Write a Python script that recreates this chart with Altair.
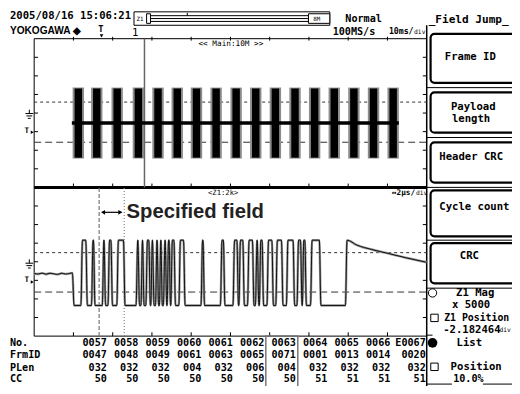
import altair as alt
import pandas as pd

# ---------------- values ----------------
header_date = "2005/08/16 15:06:21"
brand = "YOKOGAWA ◆"
acq_mode = "Normal"
sample_rate = "100MS/s"
main_tdiv = "10ms/"
zoom_tdiv = "↔2μs/"
div_unit = "div"
main_label = "<< Main:10M >>"
zoom_label = "<Z1:2k>"
record_len = "8M"
zoom_tag = "Z1"
annotation = "Specified field"

menu_title = "_Field Jump_"
menu_buttons = ["Frame ID", "Payload", "Header CRC", "Cycle count", "CRC"]
menu_second_line = ["", "length", "", "", ""]
z1_mag_title = "Z1 Mag"
z1_mag_value = "x 5000"
z1_pos_title = "Z1 Position"
z1_pos_value = "-2.182464"
list_label = "List"
position_label = "Position"
position_value = "10.0%"

row_labels = ["No.", "FrmID", "PLen", "CC"]
frame_no = ["0057", "0058", "0059", "0060", "0061", "0062", "0063", "0064", "0065", "0066", "E0067"]
frame_id = ["0047", "0048", "0049", "0061", "0063", "0065", "0071", "0001", "0013", "0014", "0020"]
payload_len = ["032", "032", "032", "004", "032", "006", "004", "032", "032", "032", "032"]
cycle_count = ["50", "50", "50", "50", "50", "50", "50", "51", "51", "51", "51"]
selected_frame = "0063"

# main trace: 10 ms/div, amplitude in divisions
burst_start_ms = [10.1, 14.8, 20.0, 25.4, 30.4, 35.3, 40.2, 45.2, 50.3, 55.3,
                  60.3, 65.3, 70.3, 75.3, 80.3, 85.3, 90.3]
burst_width_ms = 2.3
burst_high_div = 1.37
burst_low_div = -2.45
burst_mid_div = -0.54
main_thresholds_div = [0.59, -1.57]
zoom_position_ms = 28.1

# zoom trace: 2 us/div, amplitude in divisions
idle_t_us = [0.0, 0.2, 0.4, 0.6, 0.8, 1.0, 1.2, 1.4, 1.6, 1.8, 1.95]
idle_v_div = [-0.63, -0.66, -0.61, -0.67, -0.62, -0.65, -0.68, -0.62, -0.66, -0.63, -0.60]
bus_high_div = 1.16
bus_low_div = -2.35
pulses_us = [(2.42, 2.67), (2.96, 3.06), (3.51, 3.60), (3.80, 3.95), (4.25, 4.59),
             (5.23, 5.33), (5.48, 5.56), (5.73, 5.88), (5.98, 6.07), (6.22, 6.30),
             (6.42, 6.49), (6.62, 6.72), (6.81, 6.91), (7.00, 7.16), (7.41, 7.65),
             (8.54, 8.64), (9.53, 9.68), (10.17, 10.37), (10.47, 10.67), (10.91, 11.16),
             (11.31, 11.41), (11.51, 11.65), (11.90, 12.15), (12.35, 12.64), (12.89, 13.23),
             (13.43, 13.61), (13.70, 13.83), (14.12, 14.57)]
tail_t_us = [15.94, 16.44, 17.2, 18.07, 19.0, 20.0]
tail_v_div = [1.16, 0.90, 0.66, 0.44, 0.20, -0.03]
zoom_thresholds_div = [0.49, -1.63]
field_start_us = 3.31
field_end_us = 4.59

# ---------------- layout (reference pixel frame 520 x 394) ----------------
W, H = 504, 378
SX, SY = W / 520.0, H / 394.0
FS = (SX + SY) / 2
MONO = "DejaVu Sans Mono"
SANS = "Liberation Sans"

PLOT_L, PLOT_R = 27, 432
MAIN_T, MAIN_B = 32, 187
ZOOM_T, ZOOM_B = 187, 342
DIV_X = (PLOT_R - PLOT_L) / 10.0
DIV_Y = (MAIN_B - MAIN_T) / 8.0

PXS = alt.Scale(domain=[0, 520], range=[0, W])
PYS = alt.Scale(domain=[0, 394], range=[0, H])
MXS = alt.Scale(domain=[0, 100], range=[PLOT_L * SX, PLOT_R * SX])
MYS = alt.Scale(domain=[-4, 4], range=[MAIN_B * SY, MAIN_T * SY])
ZXS = alt.Scale(domain=[0, 20], range=[PLOT_L * SX, PLOT_R * SX])
ZYS = alt.Scale(domain=[-4, 4], range=[ZOOM_B * SY, ZOOM_T * SY])


def texts(rows, align="left", font=MONO, weight="bold", color="black", xs=PXS, ys=PYS):
    df = pd.DataFrame(rows, columns=["x", "y", "t", "s"])
    df["s"] = df["s"] * FS
    return alt.Chart(df).mark_text(align=align, baseline="middle", font=font,
                                   fontWeight=weight, color=color).encode(
        x=alt.X("x:Q", scale=xs, axis=None), y=alt.Y("y:Q", scale=ys, axis=None),
        text=alt.Text("t:N"), size=alt.Size("s:Q", scale=None))


def rules(rows, color="black", width=1.0, dash=None, xs=PXS, ys=PYS):
    df = pd.DataFrame(rows, columns=["x", "x2", "y", "y2"])
    kw = dict(color=color, strokeWidth=width)
    if dash:
        kw["strokeDash"] = dash
    return alt.Chart(df).mark_rule(**kw).encode(
        x=alt.X("x:Q", scale=xs, axis=None), x2=alt.X2("x2:Q"),
        y=alt.Y("y:Q", scale=ys, axis=None), y2=alt.Y2("y2:Q"))


def rects(rows, xs=PXS, ys=PYS, **kw):
    df = pd.DataFrame(rows, columns=["x", "x2", "y", "y2"])
    return alt.Chart(df).mark_rect(**kw).encode(
        x=alt.X("x:Q", scale=xs, axis=None), x2=alt.X2("x2:Q"),
        y=alt.Y("y:Q", scale=ys, axis=None), y2=alt.Y2("y2:Q"))


def points(rows, xs=PXS, ys=PYS, **kw):
    df = pd.DataFrame(rows, columns=["x", "y"])
    return alt.Chart(df).mark_point(opacity=1, **kw).encode(
        x=alt.X("x:Q", scale=xs, axis=None), y=alt.Y("y:Q", scale=ys, axis=None))


layers = []

# ---------- header ----------
layers.append(rects([(130, 332, 4, 18)], fill="white", stroke="black", strokeWidth=1))
layers.append(rules([(147, 310, 8, 8), (147, 310, 11, 11), (147, 310, 14, 14)], width=1))
layers.append(rules([(185, 185, 5, 8)], width=1))
layers.append(rects([(143, 147, 6, 16), (310, 332, 6, 16)], fill="white", stroke="black", strokeWidth=1))
layers.append(texts([(132.5, 11, zoom_tag, 6), (315, 11, record_len, 6)], weight="normal"))
layers.append(texts([(2, 8, header_date, 11)]))
layers.append(texts([(2, 24, brand, 10.5)], font=SANS))
layers.append(texts([(348, 11, acq_mode, 10.5), (335, 25, sample_rate, 10.5), (393, 25, main_tdiv, 8.5)]))
layers.append(texts([(419, 25, div_unit, 6.5)], weight="normal"))
layers.append(texts([(93, 22, "T", 9)]))
layers.append(points([(96.5, 29)], shape="triangle-down", filled=True, size=14, color="black"))
layers.append(texts([(128, 26, "1", 11)], weight="normal"))

# ---------- panel frame ----------
layers.append(rules([(PLOT_L, PLOT_R, MAIN_T, MAIN_T), (PLOT_L, PLOT_R, ZOOM_B, ZOOM_B),
                     (PLOT_L, PLOT_L, MAIN_T, ZOOM_B)], width=1))
layers.append(rules([(PLOT_L, PLOT_R, MAIN_B, MAIN_B)], width=3))
layers.append(rules([(PLOT_R, PLOT_R, 18, 394)], width=1.5))
tick_rows = []
for k in range(1, 10):
    x = PLOT_L + k * DIV_X
    tick_rows += [(x, x, MAIN_T - 2, MAIN_T + 2), (x, x, MAIN_B - 4, MAIN_B), (x, x, ZOOM_B - 4, ZOOM_B)]
for k in range(1, 8):
    for top in (MAIN_T, ZOOM_T):
        y = top + k * DIV_Y
        tick_rows += [(PLOT_L, PLOT_L + 4, y, y), (PLOT_R - 4, PLOT_R, y, y)]
layers.append(rules(tick_rows, width=1))

layers.append(texts([(230, 38, main_label, 8)], align="center", weight="normal"))
layers.append(texts([(222, 193, zoom_label, 7.5)], align="center", weight="normal"))
layers.append(texts([(420, 193, zoom_tdiv, 8)], align="right"))
layers.append(texts([(421, 193, div_unit, 6.5)], weight="normal"))

# ground / trigger-level markers
for gy, ty in ((110, 128), (266, 284)):
    layers.append(rules([(22, 22, gy - 4, gy), (18, 26, gy, gy), (19, 25, gy + 2.5, gy + 2.5),
                         (20.5, 23.5, gy + 5, gy + 5)], width=1))
    layers.append(texts([(17, ty, "T", 8)]))
    layers.append(points([(25, ty + 1.5)], shape="triangle-right", filled=True, size=12, color="black"))

# ---------- main (upper) trace ----------
layers.append(rules([(0, 100, v, v) for v in main_thresholds_div[:1]], color="#333", width=1,
                    dash=[3, 3], xs=MXS, ys=MYS))
layers.append(rules([(0, 100, v, v) for v in main_thresholds_div[1:]], color="#333", width=1,
                    dash=[7, 4], xs=MXS, ys=MYS))
layers.append(rules([(zoom_position_ms, zoom_position_ms, -4, 4)], color="#666", width=1.5, xs=MXS, ys=MYS))
layers.append(rects([(s - 0.3, s + burst_width_ms + 0.3, burst_low_div, burst_high_div) for s in burst_start_ms],
                    xs=MXS, ys=MYS, fill="#8c8c8c"))
layers.append(rects([(s + 0.2, s + burst_width_ms - 0.2, burst_low_div + 0.05, burst_high_div - 0.05)
                     for s in burst_start_ms], xs=MXS, ys=MYS, fill="black"))
layers.append(rules([(burst_start_ms[0] - 0.5, burst_start_ms[-1] + burst_width_ms + 0.3,
                      burst_mid_div, burst_mid_div)], width=3.5, xs=MXS, ys=MYS))

# ---------- zoom (lower) trace ----------
layers.append(rules([(0, 20, zoom_thresholds_div[0], zoom_thresholds_div[0])], color="#333", width=1,
                    dash=[3, 3], xs=ZXS, ys=ZYS))
layers.append(rules([(0, 20, zoom_thresholds_div[1], zoom_thresholds_div[1])], color="#333", width=1,
                    dash=[7, 4], xs=ZXS, ys=ZYS))
layers.append(rules([(field_start_us, field_start_us, -4, 4)], color="#777", width=1.2,
                    dash=[4, 2], xs=ZXS, ys=ZYS))
layers.append(rules([(field_end_us, field_end_us, -4, 4)], color="#888", width=1.2,
                    dash=[1, 2], xs=ZXS, ys=ZYS))

pts = list(zip(idle_t_us, idle_v_div))
pts.append((2.03, bus_low_div))
for a, b in pulses_us:
    if b - a < 0.1:
        pts += [(a - 0.04, bus_low_div), ((a + b) / 2, bus_high_div), (b + 0.04, bus_low_div)]
    else:
        pts += [(a - 0.04, bus_low_div), (a + 0.04, bus_high_div),
                (b - 0.04, bus_high_div), (b + 0.04, bus_low_div)]
pts.append((tail_t_us[0] - 0.08, bus_low_div))
pts += list(zip(tail_t_us, tail_v_div))
wave = pd.DataFrame(pts, columns=["t", "v"])
wave["i"] = range(len(wave))
for col, wdt in (("#9a9a9a", 2.4), ("#111", 1.0)):
    layers.append(alt.Chart(wave).mark_line(interpolate="monotone", color=col, strokeWidth=wdt).encode(
        x=alt.X("t:Q", scale=ZXS, axis=None), y=alt.Y("v:Q", scale=ZYS, axis=None), order="i:Q"))

arrow_y = 2.66
layers.append(rules([(field_start_us + 0.15, field_end_us - 0.15, arrow_y, arrow_y)], width=1.2, xs=ZXS, ys=ZYS))
layers.append(points([(field_start_us + 0.2, arrow_y)], xs=ZXS, ys=ZYS, shape="triangle-left",
                     filled=True, size=22, color="black"))
layers.append(points([(field_end_us - 0.2, arrow_y)], xs=ZXS, ys=ZYS, shape="triangle-right",
                     filled=True, size=22, color="black"))
layers.append(texts([(field_end_us + 0.12, arrow_y, annotation, 21)], font=SANS, color="#222",
                    xs=ZXS, ys=ZYS))

# ---------- frame list table ----------
row_y = [349, 362, 375, 387]
col_right = [102 + 32.5 * k for k in range(10)] + [431]
sel = frame_no.index(selected_frame)
layers.append(rects([(col_right[sel] - 31, col_right[sel] + 2, ZOOM_B, 400)], fillOpacity=0,
                    stroke="#777", strokeWidth=1.5))
layers.append(texts([(2, y, lab, 10.5) for y, lab in zip(row_y, row_labels)]))
table_rows = []
for y, series in zip(row_y, (frame_no, frame_id, payload_len, cycle_count)):
    table_rows += [(col_right[k], y, v, 10.5) for k, v in enumerate(series)]
layers.append(texts(table_rows, align="right"))

# ---------- right-hand menu ----------
layers.append(texts([(434, 13, menu_title, 11.5)]))
button_box = [(27, 78), (88, 130), (140, 182), (190, 238), (245, 287)]
layers.append(rules([(PLOT_R, 520, y, y) for y in (83, 135, 187, 242, 292)], width=1))
layers.append(rects([(436, 530, t, b) for t, b in button_box], fill="white", stroke="black",
                    strokeWidth=2.2, cornerRadius=4))
layers.append(texts([(477, 51, menu_buttons[0], 11), (476, 258, menu_buttons[4], 11)], align="center"))
layers.append(texts([(457, 103, menu_buttons[1], 11), (458, 116, menu_second_line[1], 11),
                     (445, 155, menu_buttons[2], 11), (445, 207, menu_buttons[3], 11)]))
layers.append(points([(438, 297)], shape="circle", filled=False, size=70, color="black", strokeWidth=1))
layers.append(points([(438, 349)], shape="circle", filled=True, size=95, color="black"))
layers.append(points([(440, 323), (440, 374)], shape="square", filled=False, size=55, color="black",
                     strokeWidth=1))
layers.append(texts([(482, 297, z1_mag_title, 11), (476, 349, list_label, 11),
                     (483, 374, position_label, 11), (475, 387, position_value, 10.5)], align="center"))
layers.append(texts([(458, 310, z1_mag_value, 11), (449, 336, z1_pos_value, 11)]))
layers.append(texts([(450, 323, z1_pos_title, 10.2)]))
layers.append(texts([(507, 336, div_unit, 6.5)], weight="normal"))
layers.append(rules([(PLOT_R, 438, 341, 341), (PLOT_R, 458, 392, 392), (490, 520, 392, 392)], width=1))

chart = alt.layer(*layers).resolve_scale(x="independent", y="independent").properties(
    width=W, height=H, padding=0, autosize=alt.AutoSizeParams(type="none"), background="white"
).configure_view(stroke=None)

chart.save("out.html", embed_options={"renderer": "svg", "actions": False})
